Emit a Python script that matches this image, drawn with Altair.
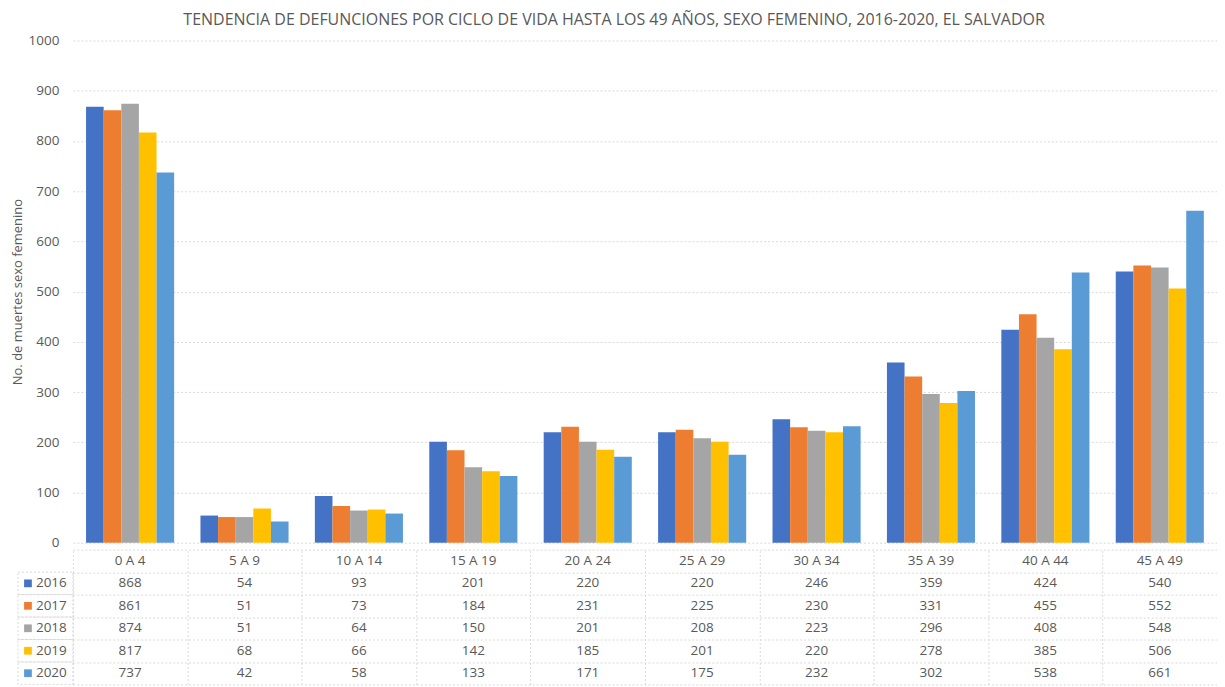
import altair as alt
import pandas as pd

categories = ["0 A 4", "5 A 9", "10 A 14", "15 A 19", "20 A 24",
              "25 A 29", "30 A 34", "35 A 39", "40 A 44", "45 A 49"]
years = ["2016", "2017", "2018", "2019", "2020"]
v2016 = [868, 54, 93, 201, 220, 220, 246, 359, 424, 540]
v2017 = [861, 51, 73, 184, 231, 225, 230, 331, 455, 552]
v2018 = [874, 51, 64, 150, 201, 208, 223, 296, 408, 548]
v2019 = [817, 68, 66, 142, 185, 201, 220, 278, 385, 506]
v2020 = [737, 42, 58, 133, 171, 175, 232, 302, 538, 661]
colors = ["#4472C4", "#ED7D31", "#A5A5A5", "#FFC000", "#5B9BD5"]
title_text = "TENDENCIA DE DEFUNCIONES POR CICLO DE VIDA HASTA LOS 49 AÑOS, SEXO FEMENINO, 2016-2020,  EL SALVADOR"
y_title = "No. de muertes sexo femenino"

series = dict(zip(years, [v2016, v2017, v2018, v2019, v2020]))
rows = []
for y, vals in series.items():
    for c, v in zip(categories, vals):
        rows.append({"cat": c, "year": y, "value": v})
df = pd.DataFrame(rows)

trows = [{"cat": c, "row": "hdr", "text": c} for c in categories]
for y, vals in series.items():
    for c, v in zip(categories, vals):
        trows.append({"cat": c, "row": y, "text": str(v)})
tdf = pd.DataFrame(trows)
ldf = pd.DataFrame({"row": years, "year": years})

TXT = "#595959"
GRID = "#d9d9d9"
W = 1146

color_enc = alt.Color("year:N", scale=alt.Scale(domain=years, range=colors), legend=None)

bars = alt.Chart(df).mark_bar().encode(
    x=alt.X("cat:N", sort=categories,
            scale=alt.Scale(domain=categories, paddingInner=0.23, paddingOuter=0.115),
            axis=None),
    xOffset=alt.XOffset("year:N", sort=years,
                        scale=alt.Scale(domain=years, paddingInner=0, paddingOuter=0)),
    y=alt.Y("value:Q", scale=alt.Scale(domain=[0, 1000], nice=False),
            axis=alt.Axis(values=list(range(0, 1001, 100)), format="d", title=y_title,
                          grid=True, gridDash=[2, 2], gridColor=GRID,
                          domain=False, ticks=False, labelPadding=14,
                          labelColor=TXT, labelFontSize=13.5,
                          titleColor=TXT, titleFontSize=13, titleFontWeight="normal",
                          titlePadding=4)),
    color=color_enc,
).properties(width=W, height=503)

x_tab = alt.X("cat:N", sort=categories,
              scale=alt.Scale(domain=categories, paddingInner=0, paddingOuter=0),
              axis=alt.Axis(labels=False, ticks=False, domain=False, grid=True,
                            tickBand="extent", gridDash=[2, 2], gridColor=GRID,
                            title=None))
row_domain = ["hdr"] + years
y_tab = alt.Y("row:N", scale=alt.Scale(domain=row_domain, paddingInner=0, paddingOuter=0),
              axis=alt.Axis(labels=False, domain=False, ticks=False,
                            tickBand="extent",
                            grid=True, gridDash=[2, 2], gridColor=GRID, title=None))

cells = alt.Chart(tdf).mark_text(fontSize=13.5, color=TXT).encode(
    x=x_tab, y=y_tab, text="text:N")
boxes = alt.Chart(ldf).mark_rect(fill="white", fillOpacity=0, stroke=GRID,
                                 strokeDash=[2, 2], strokeWidth=1).encode(
    x=alt.value(-55), x2=alt.value(0), y=alt.Y("row:N"))
squares = alt.Chart(ldf).mark_square(size=60, opacity=1).encode(
    x=alt.value(-45), y=alt.Y("row:N"), color=color_enc)
ltext = alt.Chart(ldf).mark_text(align="left", fontSize=13.5, color=TXT).encode(
    x=alt.value(-37), y=alt.Y("row:N"), text="year:N")

table = alt.layer(cells, boxes, squares, ltext).properties(width=W, height=135)

chart = alt.vconcat(bars, table, spacing=0).properties(
    title=alt.TitleParams(text=title_text, fontSize=16, color=TXT,
                          fontWeight="normal", anchor="middle", offset=6),
    padding={"left": 3, "top": 3, "right": 0, "bottom": 0},
).configure(font="Open Sans").configure_view(stroke=None)

chart.save("out.html", embed_options={"renderer": "svg", "actions": False})
